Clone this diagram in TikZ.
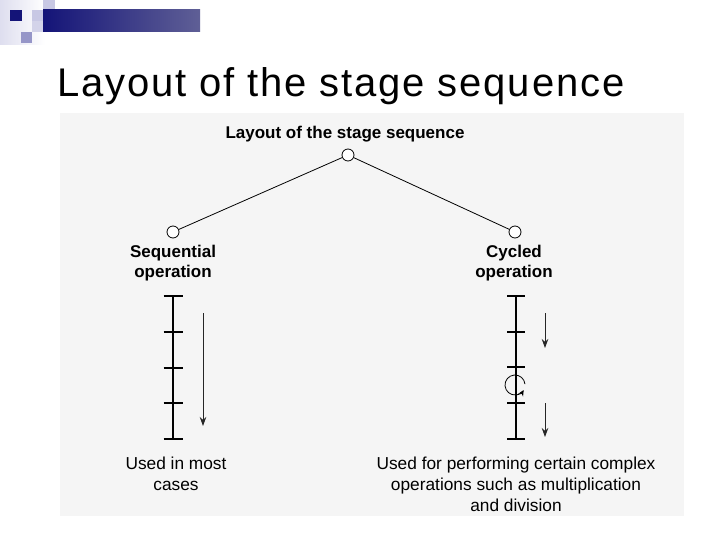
\documentclass[tikz,border=0pt]{standalone}
\usepackage{fontspec}
\setmainfont{Liberation Sans}
\newfontfamily\titlefont[LetterSpace=4.6]{Liberation Sans}
\usetikzlibrary{arrows.meta}
\definecolor{navy}{RGB}{20,20,120}
\definecolor{navyl}{RGB}{95,95,150}
\definecolor{lav}{RGB}{200,200,228}
\definecolor{lavm}{RGB}{150,150,200}
\definecolor{panel}{RGB}{245,245,245}
\tikzset{
  hub/.style={circle,draw,fill=white,line width=0.8pt,minimum size=12pt,inner sep=0pt},
  head/.style={font=\fontsize{17}{20}\selectfont\bfseries,align=center},
  note/.style={font=\fontsize{17.3}{21.2}\selectfont,align=center},
  rail/.style={line width=1.6pt},
  tick/.style={line width=1.6pt},
  flow/.style={line width=0.8pt,draw=black!85,-{Stealth[length=9pt,width=6.5pt]}},
  link/.style={line width=0.8pt}
}
\begin{document}
\begin{tikzpicture}[x=1pt,y=-1pt]
\useasboundingbox (0,0) rectangle (720,540);
\fill[white] (0,0) rectangle (720,540);
% decoration
\shade[left color=lav!60,right color=white] (0,0) rectangle (45,45);
\fill[navy] (10,10) rectangle (22,21);
\fill[lav] (32,10) rectangle (43,21);
\fill[lav] (43,0) rectangle (55,10);
\fill[lav!80] (32,21) rectangle (43,32);
\fill[lavm] (21,32) rectangle (32,43);
\shade[left color=navy,right color=navyl] (43,10) rectangle (200,32);
% title
\node[anchor=base west,inner xsep=0pt,font=\titlefont\fontsize{40}{44}\selectfont] (title) at (57,97) {Layout of the stage sequence};
% panel
\fill[panel] (60,113) rectangle (684,516);
% tree
\node[head,anchor=base] (toplabel) at (345,139) {Layout of the stage sequence};
\node[hub] (top) at (348,155) {};
\node[hub] (left) at (173,232) {};
\node[hub] (right) at (515,232) {};
\draw[link] (top) -- (left);
\draw[link] (top) -- (right);
\node[head,anchor=north] (lefth) at (173,242) {Sequential\\operation};
\node[head,anchor=north] (righth) at (514,242) {Cycled\\operation};
% left ladder
\coordinate (la) at (173,296);
\coordinate (lb) at (173,439);
\draw[rail] (la) -- (lb);
\foreach \y in {296,332,368,403,439} \draw[tick] (163.5,\y) -- (183,\y);
\coordinate (lfa) at (203,313);
\coordinate (lfb) at (203,426);
\draw[flow] (lfa) -- (lfb);
% right ladder
\coordinate (ra) at (516,296);
\coordinate (rb) at (516,439);
\draw[rail] (ra) -- (rb);
\foreach \y in {296,332,367,403,439} \draw[tick] (507,\y) -- (525,\y);
\coordinate (rfa) at (545,313);
\coordinate (rfb) at (545,348);
\draw[flow] (rfa) -- (rfb);
\coordinate (rfc) at (545,403);
\coordinate (rfd) at (545,437);
\draw[flow] (rfc) -- (rfd);
\coordinate (cyc) at (515,385);
\draw[line width=0.8pt,-{Stealth[length=6pt,width=5.5pt]}] ([shift={(-5:10)}]cyc) arc[start angle=-5,end angle=-330,radius=10];
% notes
\node[note,anchor=north] (ln) at (176,453) {Used in most\\cases};
\node[note,anchor=north] (rn) at (516,453) {Used for performing certain complex\\operations such as multiplication\\and division};
\end{tikzpicture}
\end{document}
